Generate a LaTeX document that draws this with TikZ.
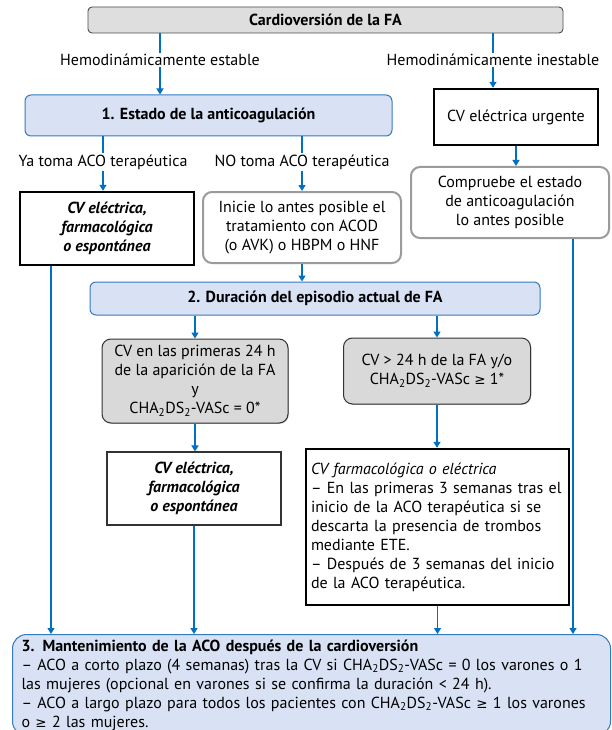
\documentclass[tikz,border=0pt]{standalone}
\usepackage{fontspec}
\setmainfont{PT Sans}
\newfontfamily\symfont{DejaVu Sans}
\usetikzlibrary{arrows.meta,shadows}

\definecolor{flowblue}{RGB}{0,112,192}
\definecolor{panelblue}{RGB}{217,226,244}
\definecolor{panelborder}{RGB}{52,122,190}
\definecolor{greyfill}{RGB}{217,217,217}
\definecolor{headfill}{RGB}{222,222,222}
\definecolor{greyedge}{RGB}{155,155,155}

\newcommand{\basefont}{\fontsize{16}{19}\selectfont}
\newcommand{\chads}{CHA\textsubscript{2}DS\textsubscript{2}-VASc}
\newcommand{\gesym}{{\symfont\fontsize{13.5}{13.5}\selectfont ≥}}

\tikzset{
  conn/.style={draw=flowblue, line width=1.4pt},
  arr/.style={conn, -{Triangle[length=6pt,width=7pt]}},
  sized/.style 2 args={minimum width=#1, minimum height=#2, inner sep=0pt, align=center},
  softshadow/.style={drop shadow={shadow xshift=0.8pt, shadow yshift=-0.8pt, fill=black!45}},
  headbox/.style={draw=black!70, fill=headfill, rounded corners=4pt, line width=0.9pt, font=\basefont\bfseries},
  bluebox/.style={draw=panelborder, fill=panelblue, rounded corners=6pt, line width=1pt},
  heavybox/.style={draw=black, fill=white, line width=2.4pt},
  softbox/.style={draw=greyedge, fill=white, line width=2pt, rounded corners=9pt},
  greybox/.style={draw=black!80, fill=greyfill, rounded corners=9pt, line width=1pt, softshadow},
  plainbox/.style={draw=black!80, fill=white, line width=1.1pt, softshadow},
  lbl/.style={inner sep=1pt}
}

\begin{document}
\begin{tikzpicture}[x=1pt, y=-1pt, font=\basefont]
  \useasboundingbox (0,0) rectangle (611,730);
  \fill[white] (0,0) rectangle (611,730);
  \clip (0,0) rectangle (611,730);

  % header and the two haemodynamic branches
  \node[headbox, sized={475}{26}] (top) at (325.5,20) {Cardioversión de la FA};
  \node[lbl] (stable) at (160,60) {Hemodinámicamente estable};
  \node[lbl] (unstable) at (493,60) {Hemodinámicamente inestable};

  \node[bluebox, sized={367}{41}, font=\basefont\bfseries] (step1) at (208.5,115.5) {1. Estado de la anticoagulación};
  \node[heavybox, sized={164}{56}] (urgent) at (516,117) {CV eléctrica urgente};

  \node[lbl] (takes) at (103,162) {Ya toma ACO terapéutica};
  \node[lbl] (nottakes) at (302,162) {NO toma ACO terapéutica};

  \node[heavybox, sized={174}{73}, font=\basefont\bfseries\itshape] (cvA) at (107,228.5)
    {CV eléctrica,\\farmacológica\\o espontánea};
  \node[softbox, sized={198}{71}] (start) at (302,227.5)
    {Inicie lo antes posible el\\tratamiento con ACOD\\(o AVK) o HBPM o HNF};
  \node[softbox, sized={198}{71}] (check) at (510,202.5)
    {Compruebe el estado\\de anticoagulación\\lo antes posible};

  % episode duration
  \node[bluebox, sized={450}{33}, font=\basefont\bfseries] (step2) at (315,298.5) {2. Duración del episodio actual de FA};
  \node[greybox, sized={186}{84}] (early) at (195,381)
    {CV en las primeras 24 h\\de la aparición de la FA\\y\\\chads{} = 0*};
  \node[greybox, sized={187}{66}] (late) at (437,371)
    {CV > 24 h de la FA y/o\\\chads{} \gesym{} 1*};

  \node[plainbox, sized={174}{73}, font=\basefont\bfseries\itshape] (cvB) at (194,488.5)
    {CV eléctrica,\\farmacológica\\o espontánea};
  \node[heavybox, minimum width=263, minimum height=156, inner xsep=5pt, inner ysep=0pt,
        text width=253, align=left] (cvC) at (437.5,527)
    {\textit{CV farmacológica o eléctrica}\\
     – En las primeras 3 semanas tras el\\
     inicio de la ACO terapéutica si se\\
     descarta la presencia de trombos\\
     mediante ETE.\\
     – Después de 3 semanas del inicio\\
     de la ACO terapéutica.};

  % maintenance after cardioversion
  \node[bluebox, rounded corners=14pt, anchor=north west, inner xsep=9pt, inner ysep=5pt,
        text width=580, align=left] (step3) at (12,634)
    {\textbf{3. Mantenimiento de la ACO después de la cardioversión}\\
     – ACO a corto plazo (4 semanas) tras la CV si \chads{} = 0 los varones o 1\\
     las mujeres (opcional en varones si se confirma la duración < 24 h).\\
     – ACO a largo plazo para todos los pacientes con \chads{} \gesym{} 1 los varones\\
     o \gesym{} 2 las mujeres.\\[6pt]};

  \coordinate (railL) at (51,0);
  \coordinate (railR) at (573,0);

  % connectors
  \draw[conn] (top.south -| stable) -- (stable.north);
  \draw[arr] (stable.south) -- (stable.south |- step1.north);
  \draw[conn] (top.south -| unstable) -- (unstable.north);
  \draw[arr] (unstable.south) -- (unstable.south |- urgent.north);

  \draw[conn] (step1.south -| takes) -- (takes.north);
  \draw[arr] (takes.south) -- (takes.south |- cvA.north);
  \draw[conn] (step1.south -| nottakes) -- (nottakes.north);
  \draw[arr] (nottakes.south) -- (nottakes.south |- start.north);

  \draw[arr] (urgent.south) -- (urgent.south |- check.north);
  \draw[arr] (start.south) -- (start.south |- step2.north);

  \draw[arr] (step2.south -| early) -- (early.north);
  \draw[arr] (step2.south -| late) -- (late.north);
  \draw[arr] (early.south) -- (early.south |- cvB.north);
  \draw[arr] (late.south) -- (late.south |- cvC.north);

  \draw[arr] (cvA.south -| railL) -- (railL |- step3.north);
  \draw[arr] (cvB.south) -- (cvB.south |- step3.north);
  \draw[arr] (cvC.south) -- (cvC.south |- step3.north);
  \draw[arr] (check.south -| railR) -- (railR |- step3.north);
\end{tikzpicture}
\end{document}
